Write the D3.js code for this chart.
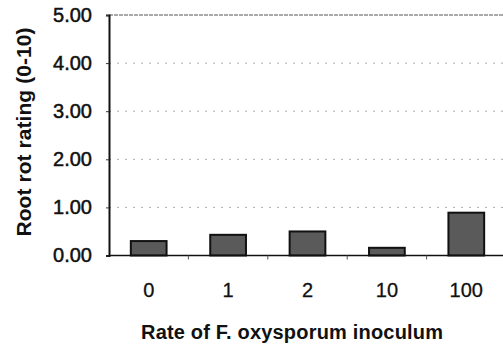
<!DOCTYPE html>
<html>
<head>
<meta charset="utf-8">
<script src="https://cdn.jsdelivr.net/npm/d3@7"></script>
<style>
  body { margin: 0; background: #fff; }
  text { font-family: "Liberation Sans", Arial, sans-serif; fill: #111; }
</style>
</head>
<body>
<div id="chart"></div>
<script>
var categories = ["0", "1", "2", "10", "100"];
var ratings = [0.30, 0.43, 0.50, 0.16, 0.89];
var yTicks = [0, 1, 2, 3, 4, 5];

var W = 503, H = 348;
var margin = { top: 15, right: -3, bottom: 92, left: 109 };

var svg = d3.select("#chart")
    .append("svg")
    .attr("width", W)
    .attr("height", H);

var x = d3.scaleBand()
    .domain(categories)
    .range([margin.left, W - margin.right])
    .paddingInner(0.55)
    .paddingOuter(0.275);

var y = d3.scaleLinear()
    .domain([0, 5])
    .range([H - margin.bottom - 0.5, margin.top]);

// gridlines
svg.append("g")
    .selectAll("line")
    .data(yTicks.filter(function(d) { return d > 0 && d < 5; }))
    .enter()
    .append("line")
    .attr("x1", margin.left)
    .attr("x2", W)
    .attr("y1", function(d) { return y(d); })
    .attr("y2", function(d) { return y(d); })
    .attr("stroke", "#aaa")
    .attr("stroke-width", 1)
    .attr("stroke-dasharray", "2,6");

// top border (dotted, darker)
svg.append("line")
    .attr("x1", margin.left)
    .attr("x2", W)
    .attr("y1", y(5))
    .attr("y2", y(5))
    .attr("stroke", "#555")
    .attr("stroke-width", 1.2)
    .attr("stroke-dasharray", "4,1");

// bars
svg.append("g")
    .selectAll("rect")
    .data(ratings)
    .enter()
    .append("rect")
    .attr("x", function(d, i) { return x(categories[i]); })
    .attr("y", function(d) { return y(d); })
    .attr("width", x.bandwidth())
    .attr("height", function(d) { return y(0) - y(d); })
    .attr("fill", "#5a5a5a")
    .attr("stroke", "#111")
    .attr("stroke-width", 2);

// y axis
var yAxis = svg.append("g")
    .attr("transform", "translate(" + margin.left + ",0)")
    .call(d3.axisLeft(y).tickValues(yTicks).tickSize(3).tickPadding(14)
        .tickFormat(function(d) { return d3.format(".2f")(d); }));
yAxis.select(".domain").attr("stroke", "#111").attr("stroke-width", 2);
yAxis.selectAll(".tick line").attr("stroke", "#333");
yAxis.selectAll("text")
    .attr("font-size", "20px")
    .attr("font-family", "Liberation Sans, Arial, sans-serif")
    .attr("fill", "#111")
    .attr("stroke", "#111")
    .attr("stroke-width", 0.5);

// x axis baseline
svg.append("line")
    .attr("x1", margin.left)
    .attr("x2", W)
    .attr("y1", y(0))
    .attr("y2", y(0))
    .attr("stroke", "#111")
    .attr("stroke-width", 1.5);

// x tick marks between categories
svg.append("g")
    .selectAll("line")
    .data(categories.slice(1))
    .enter()
    .append("line")
    .attr("x1", function(d) { return x(d) - x.step() * x.paddingInner() / 2; })
    .attr("x2", function(d) { return x(d) - x.step() * x.paddingInner() / 2; })
    .attr("y1", y(0))
    .attr("y2", y(0) + 4)
    .attr("stroke", "#555");

// x labels
svg.append("g")
    .selectAll("text")
    .data(categories)
    .enter()
    .append("text")
    .attr("x", function(d) { return x(d) + x.bandwidth() / 2; })
    .attr("y", 297)
    .attr("text-anchor", "middle")
    .attr("font-size", "20px")
    .attr("stroke", "#111")
    .attr("stroke-width", 0.3)
    .text(function(d) { return d; });

// axis titles
svg.append("text")
    .attr("x", 292)
    .attr("y", 339)
    .attr("text-anchor", "middle")
    .attr("font-size", "20px")
    .attr("font-weight", "bold")
    .attr("textLength", 302)
    .attr("lengthAdjust", "spacing")
    .text("Rate of F. oxysporum inoculum");

svg.append("text")
    .attr("transform", "translate(31,132) rotate(-90)")
    .attr("text-anchor", "middle")
    .attr("font-size", "21px")
    .attr("font-weight", "bold")
    .attr("textLength", 209)
    .attr("lengthAdjust", "spacing")
    .text("Root rot rating (0-10)");
</script>
</body>
</html>
